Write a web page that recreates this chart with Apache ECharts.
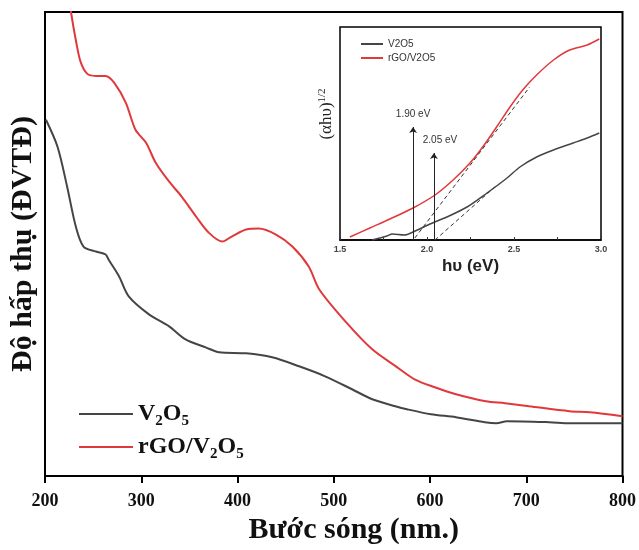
<!DOCTYPE html>
<html>
<head>
<meta charset="utf-8">
<script src="https://cdn.jsdelivr.net/npm/echarts@6/dist/echarts.min.js"></script>
<style>
  html, body { margin: 0; padding: 0; background: #fff; }
  #main { width: 639px; height: 550px; }
</style>
</head>
<body>
<div id="main"></div>
<script>
// main absorption spectra (wavelength nm, absorbance a.u.)
var wlRed = [224, 227, 232, 237, 244, 253, 263, 272, 284, 294, 305, 315, 329, 342, 357, 370, 384, 394, 409, 422, 440, 457, 474, 485, 513, 540, 566, 584, 605, 627, 658, 678, 703, 745, 766, 800];
var absRed = [4.87, 4.65, 4.37, 4.15, 4.03, 4.01, 4.01, 3.94, 3.74, 3.47, 3.34, 3.14, 2.95, 2.80, 2.60, 2.44, 2.35, 2.40, 2.47, 2.48, 2.42, 2.30, 2.10, 1.87, 1.54, 1.27, 1.09, 0.97, 0.89, 0.82, 0.75, 0.73, 0.70, 0.65, 0.64, 0.60];
var wlBlack = [201, 213, 223, 232, 240, 253, 263, 266, 277, 287, 308, 329, 346, 367, 381, 409, 436, 464, 491, 519, 540, 564, 576, 601, 627, 657, 669, 680, 724, 745, 800];
var absBlack = [3.57, 3.30, 2.90, 2.50, 2.30, 2.25, 2.22, 2.17, 2.00, 1.80, 1.62, 1.50, 1.37, 1.29, 1.24, 1.23, 1.19, 1.10, 1.00, 0.87, 0.77, 0.70, 0.67, 0.62, 0.59, 0.54, 0.53, 0.55, 0.54, 0.53, 0.53];

// inset Tauc plot (hv eV, (ahv)^1/2)
var evRed = [1.557, 1.672, 1.787, 1.92, 2.046, 2.15, 2.247, 2.32, 2.40, 2.477, 2.55, 2.63, 2.727, 2.82, 2.92, 2.99];
var tRed = [0.03, 0.12, 0.21, 0.32, 0.45, 0.60, 0.77, 0.93, 1.13, 1.33, 1.50, 1.65, 1.80, 1.90, 1.95, 2.01];
var evBlack = [1.684, 1.77, 1.80, 1.87, 1.92, 2.017, 2.114, 2.23, 2.345, 2.46, 2.534, 2.63, 2.727, 2.84, 2.92, 2.99];
var tBlack = [0.0, 0.04, 0.06, 0.05, 0.08, 0.16, 0.23, 0.33, 0.47, 0.62, 0.73, 0.83, 0.90, 0.97, 1.02, 1.07];
var tangentRed = [[1.93, 0.02], [2.59, 1.53]];
var tangentBlack = [[2.046, 0.0], [2.39, 0.53]];
var gapRed = [1.92, 1.13];   // arrow x, arrow top
var gapBlack = [2.04, 0.87];
var xTicksMain = [200, 800, 100];
var xTicksInset = [1.5, 3.0, 0.5];

function pairs(xs, ys) {
  return xs.map(function (x, i) { return [x, ys[i]]; });
}

var serif = 'Liberation Serif';
var sans = 'Liberation Sans';
var RED = '#e0383b';
var BLACK = '#454545';

var myChart = echarts.init(document.getElementById('main'), null, { renderer: 'canvas' });

option = {
  animation: false,
  backgroundColor: '#fff',
  grid: [
    { left: 45, top: 12, right: 16, bottom: 73, show: true, borderColor: '#000', borderWidth: 2 },
    { left: 340, top: 27, width: 261, height: 213, show: true, borderColor: '#000', borderWidth: 1.5, backgroundColor: '#fff' }
  ],
  legend: [
    {
      data: ['V2O5', 'rGO/V2O5'],
      orient: 'vertical',
      left: 73, top: 397,
      itemWidth: 54, itemHeight: 14, itemGap: 6,
      itemStyle: { opacity: 0 },
      formatter: function (name) {
        return name == 'V2O5' ? '{b|V}{s|2}{b|O}{s|5}' : '{b|rGO/V}{s|2}{b|O}{s|5}';
      },
      textStyle: {
        rich: {
          b: { fontFamily: serif, fontWeight: 'bold', fontSize: 24, color: '#111', lineHeight: 30 },
          s: { fontFamily: serif, fontWeight: 'bold', fontSize: 15, color: '#111', lineHeight: 20, verticalAlign: 'bottom' }
        }
      }
    },
    {
      data: ['V2O5 (Tauc)', 'rGO/V2O5 (Tauc)'],
      orient: 'vertical',
      left: 355, top: 34,
      itemWidth: 22, itemHeight: 10, itemGap: 4,
      itemStyle: { opacity: 0 },
      formatter: function (name) { return name.replace(' (Tauc)', ''); },
      textStyle: { fontFamily: sans, fontSize: 10, color: '#333' }
    }
  ],
  xAxis: [
    {
      type: 'value', gridIndex: 0,
      min: xTicksMain[0], max: xTicksMain[1], interval: xTicksMain[2],
      name: 'Bước sóng (nm.)', nameLocation: 'middle', nameGap: 38,
      nameTextStyle: { fontFamily: serif, fontWeight: 'bold', fontSize: 30, color: '#111', padding: [0, 0, 0, 40] },
      axisLine: { lineStyle: { color: '#000', width: 2 } },
      axisTick: { length: 7, lineStyle: { color: '#000', width: 2 } },
      axisLabel: { margin: 16, fontFamily: serif, fontWeight: 'bold', fontSize: 18, color: '#111' },
      splitLine: { show: false }
    },
    {
      type: 'value', gridIndex: 1,
      min: xTicksInset[0], max: xTicksInset[1], interval: xTicksInset[2],
      name: 'hυ (eV)', nameLocation: 'middle', nameGap: 18,
      nameTextStyle: { fontFamily: sans, fontWeight: 'bold', fontSize: 17, color: '#222' },
      axisLine: { lineStyle: { color: '#000', width: 1.5 } },
      axisTick: { inside: true, length: 3, lineStyle: { color: '#333' } },
      minorTick: { show: true, splitNumber: 2, length: 3, lineStyle: { color: '#333' } },
      axisLabel: {
        margin: 5, fontFamily: sans, fontWeight: 'bold', fontSize: 9, color: '#444',
        formatter: function (v) { return v.toFixed(1); }
      },
      splitLine: { show: false }
    }
  ],
  yAxis: [
    {
      type: 'value', gridIndex: 0, min: 0, max: 4.65,
      name: 'Độ hấp thụ (ĐVTĐ)', nameLocation: 'middle', nameGap: 7,
      nameTextStyle: { fontFamily: serif, fontWeight: 'bold', fontSize: 30, color: '#111' },
      axisLine: { show: false }, axisTick: { show: false }, axisLabel: { show: false },
      splitLine: { show: false }
    },
    {
      type: 'value', gridIndex: 1, min: 0, max: 2.13,
      axisLine: { show: false }, axisTick: { show: false }, axisLabel: { show: false },
      splitLine: { show: false }
    }
  ],
  graphic: [
    {
      type: 'text', x: 327, y: 114, rotation: Math.PI / 2,
      style: {
        text: '{a|(αhυ)}{s|1/2}',
        align: 'center', verticalAlign: 'middle',
        rich: {
          a: { fontFamily: serif, fontSize: 17, fill: '#222', lineHeight: 20 },
          s: { fontFamily: serif, fontSize: 11, fill: '#222', lineHeight: 12, verticalAlign: 'top' }
        }
      }
    }
  ],
  series: [
    {
      name: 'V2O5', type: 'line', xAxisIndex: 0, yAxisIndex: 0,
      data: pairs(wlBlack, absBlack), smooth: 0.3, symbol: 'none',
      lineStyle: { color: BLACK, width: 2 }, itemStyle: { color: BLACK }
    },
    {
      name: 'rGO/V2O5', type: 'line', xAxisIndex: 0, yAxisIndex: 0,
      data: pairs(wlRed, absRed), smooth: 0.3, symbol: 'none',
      lineStyle: { color: RED, width: 2 }, itemStyle: { color: RED }
    },
    {
      name: 'V2O5 (Tauc)', type: 'line', xAxisIndex: 1, yAxisIndex: 1,
      data: pairs(evBlack, tBlack), smooth: 0.3, symbol: 'none',
      lineStyle: { color: BLACK, width: 1.5 }, itemStyle: { color: BLACK },
      markLine: {
        silent: true, symbol: ['none', 'arrow'], symbolSize: 6,
        lineStyle: { color: '#222', width: 1, type: 'solid' },
        label: { show: true, position: 'end', formatter: '{b}', fontFamily: sans, fontSize: 10, color: '#333', distance: 8 },
        data: [
          [{ name: '1.90 eV', coord: [gapRed[0], 0] }, { coord: [gapRed[0], gapRed[1]] }],
          [{ name: '2.05 eV', coord: [gapBlack[0], 0], label: { offset: [6, 0] } }, { coord: [gapBlack[0], gapBlack[1]] }]
        ]
      }
    },
    {
      name: 'rGO/V2O5 (Tauc)', type: 'line', xAxisIndex: 1, yAxisIndex: 1,
      data: pairs(evRed, tRed), smooth: 0.3, symbol: 'none',
      lineStyle: { color: RED, width: 1.5 }, itemStyle: { color: RED }
    },
    {
      name: 'tangent1', type: 'line', xAxisIndex: 1, yAxisIndex: 1,
      data: tangentRed, symbol: 'none',
      lineStyle: { color: '#333', width: 1, type: [4, 3] }
    },
    {
      name: 'tangent2', type: 'line', xAxisIndex: 1, yAxisIndex: 1,
      data: tangentBlack, symbol: 'none',
      lineStyle: { color: '#333', width: 1, type: [4, 3] }
    }
  ]
};
myChart.setOption(option);
</script>
</body>
</html>
